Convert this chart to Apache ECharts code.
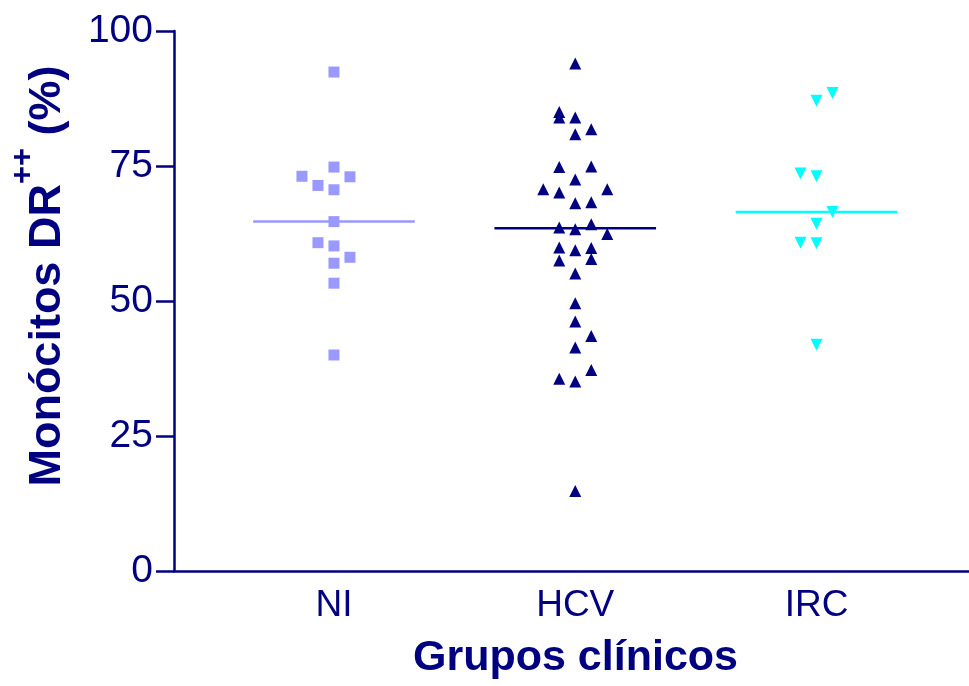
<!DOCTYPE html>
<html>
<head>
<meta charset="utf-8">
<script src="https://cdn.jsdelivr.net/npm/echarts@6/dist/echarts.min.js"></script>
<style>
html,body{margin:0;padding:0;background:#fff;}
#c{width:969px;height:686px;}
</style>
</head>
<body>
<div id="c"></div>
<script>
// ---- data ----
const categories = ['NI', 'HCV', 'IRC'];
const yTicks = [0, 25, 50, 75, 100];

const niValues = [92.4, 74.8, 73.1, 73.0, 71.4, 70.6, 64.7, 60.8, 60.2, 58.1, 57.0, 53.3, 40.0];
const niSlots  = [0, 0, -2, 1, -1, 0, 0, -1, 0, 1, 0, 0, 0];

const hcvValues = [94.0, 85.0, 84.0, 84.0, 81.8, 80.9, 74.8, 74.9, 72.5, 70.7, 70.1, 70.7, 68.1, 68.3,
  63.6, 63.3, 64.2, 62.4, 59.9, 59.4, 59.8, 57.5, 57.8, 55.1, 49.6, 46.2, 43.5, 41.4, 37.2, 35.6, 35.1, 14.8];
const hcvSlots  = [0, -1, -1, 0, 1, 0, -1, 1, 0, -2, -1, 2, 0, 1,
  -1, 0, 1, 2, -1, 0, 1, -1, 1, 0, 0, 0, 1, 0, 1, -1, 0, 0];

const ircValues = [88.5, 87.1, 73.6, 73.1, 66.5, 64.3, 60.8, 60.7, 41.9];
const ircSlots  = [1, 0, -1, 0, 1, 0, -1, 0, 0];

// ---- styling ----
const NAVY = '#000080';
const colors = ['#9999ff', '#000080', '#00ffff'];
const SLOT_PX = 16;
const HALF_LINE = 0.335;

function median(arr) {
  const s = arr.slice().sort((a, b) => a - b);
  const n = s.length;
  return n % 2 ? s[(n - 1) / 2] : (s[n / 2 - 1] + s[n / 2]) / 2;
}

function pts(values, slots, gi) {
  return values.map((v, i) => ({ value: [gi, v], symbolOffset: [slots[i] * SLOT_PX, 0] }));
}

const groups = [
  { vals: niValues, slots: niSlots, symbol: 'rect', size: 11, rot: 0 },
  { vals: hcvValues, slots: hcvSlots, symbol: 'triangle', size: 12, rot: 0 },
  { vals: ircValues, slots: ircSlots, symbol: 'triangle', size: 12, rot: 180 }
];

const series = [];
groups.forEach((g, gi) => {
  const m = median(g.vals);
  series.push({
    type: 'line',
    data: [[gi - HALF_LINE, m], [gi + HALF_LINE, m]],
    symbol: 'none',
    lineStyle: { color: colors[gi], width: 2.5 },
    silent: true, z: 2
  });
  series.push({
    type: 'scatter',
    data: pts(g.vals, g.slots, gi),
    symbol: g.symbol,
    symbolSize: g.size,
    symbolRotate: g.rot,
    itemStyle: { color: colors[gi], opacity: 1 },
    z: 3
  });
});

const chart = echarts.init(document.getElementById('c'), null, { renderer: 'canvas' });
chart.setOption({
  animation: false,
  backgroundColor: '#fff',
  grid: { left: 168, right: 0, top: 31, bottom: 115, containLabel: false },
  xAxis: {
    type: 'value',
    min: -0.663,
    max: 2.632,
    splitLine: { show: false },
    axisLine: { show: true, onZero: false, lineStyle: { color: NAVY, width: 2.5 } },
    axisTick: { show: false },
    axisLabel: {
      customValues: [0, 1, 2],
      formatter: v => categories[Math.round(v)] || '',
      color: NAVY, fontSize: 37, fontFamily: 'Liberation Sans', margin: 16
    },
    name: 'Grupos clínicos',
    nameLocation: 'middle',
    nameGap: 66,
    nameTextStyle: { color: NAVY, fontSize: 43, fontWeight: 'bold', fontFamily: 'Liberation Sans', padding: [0, 0, 0, 8] }
  },
  yAxis: {
    type: 'value',
    min: 0, max: 100, interval: 25,
    splitLine: { show: false },
    axisLine: { show: true, onZero: false, lineStyle: { color: NAVY, width: 2.5 } },
    axisTick: { show: true, length: 18, lineStyle: { color: NAVY, width: 2.5 } },
    axisLabel: {
      color: NAVY, fontSize: 39, fontFamily: 'Liberation Sans', margin: 21,
      formatter: v => yTicks.indexOf(v) >= 0 ? String(v) : ''
    },
    name: '{a|Monócitos DR}{s|++}{a| (%)}',
    nameLocation: 'middle',
    nameGap: 104,
    nameRotate: 90,
    nameTextStyle: {
      color: NAVY, fontFamily: 'Liberation Sans', fontWeight: 'bold', fontSize: 45,
      padding: [0, 0, 0, 50],
      rich: {
        a: { color: NAVY, fontFamily: 'Liberation Sans', fontWeight: 'bold', fontSize: 45, lineHeight: 62, verticalAlign: 'bottom' },
        s: { color: NAVY, fontFamily: 'Liberation Sans', fontWeight: 'bold', fontSize: 31, lineHeight: 62, verticalAlign: 'top', padding: [0, 0, 14, 0] }
      }
    }
  },
  series: series
});
</script>
</body>
</html>
